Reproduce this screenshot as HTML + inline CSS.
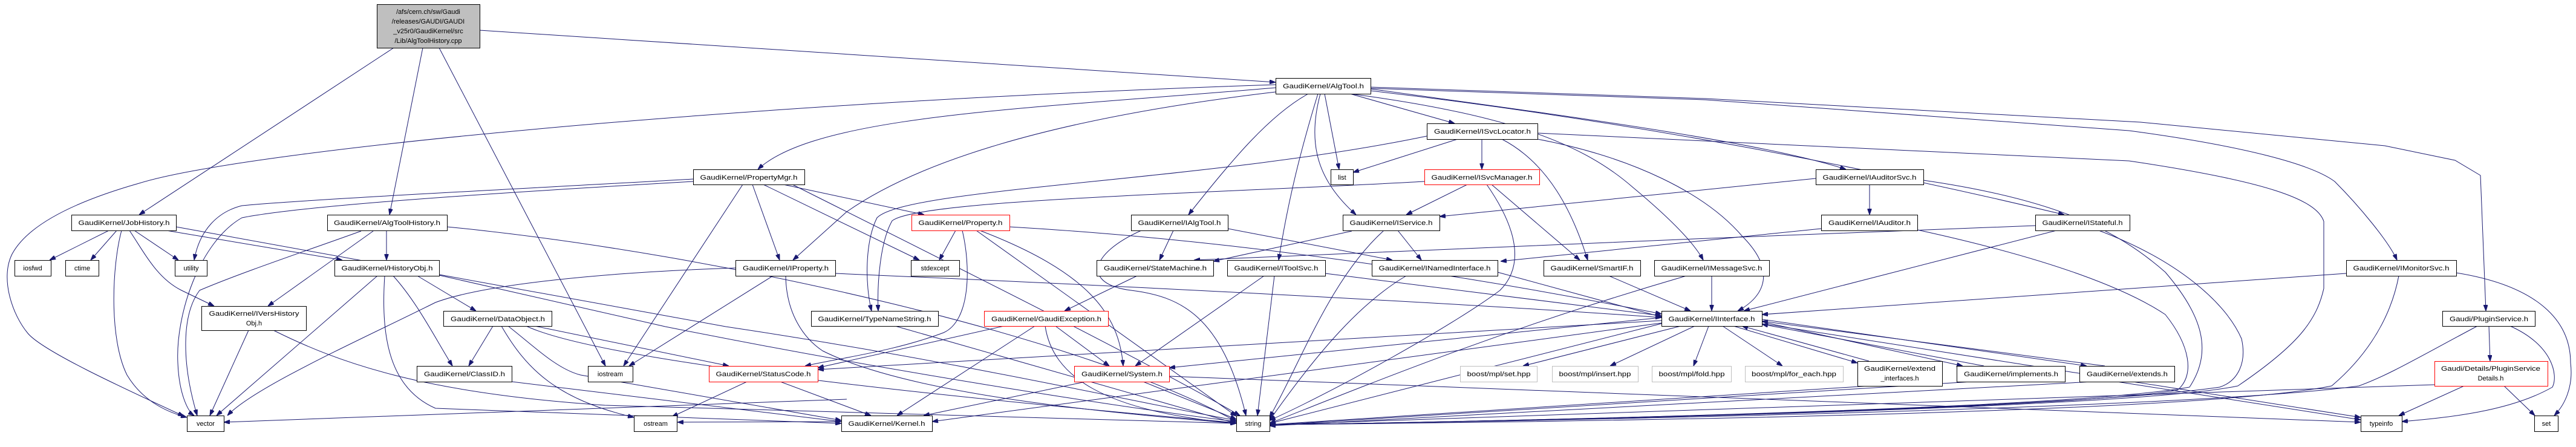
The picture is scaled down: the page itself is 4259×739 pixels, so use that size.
<!DOCTYPE html>
<html><head><meta charset="utf-8"><style>
html,body{margin:0;padding:0;background:#fff;}
svg{display:block;}
text{font-family:"Liberation Sans",sans-serif;font-size:11px;fill:#000;}
.e{fill:none;stroke:#191970;stroke-width:1;marker-end:url(#a);}
.n{fill:#fff;stroke:#000;stroke-width:1;}
.r{fill:#fff;stroke:#f00;stroke-width:1;}
.g{fill:#fff;stroke:#bfbfbf;stroke-width:1;}
</style></head><body>
<svg width="4259" height="739" viewBox="0 0 4259 739" xmlns="http://www.w3.org/2000/svg">
<defs><marker id="a" markerWidth="10" markerHeight="7" refX="10" refY="3.5" orient="auto" markerUnits="userSpaceOnUse"><path d="M0,0 L10,3.5 L0,7 z" fill="#191970" stroke="#191970"/></marker></defs>
<g>
<!-- root -->
<path class="e" d="M651,79 L230,355"/>
<path class="e" d="M699,79 L644,355"/>
<path class="e" d="M726,79 L1001,605"/>
<path class="e" d="M793,50 L2109,136"/>
<!-- JobHistory -->
<path class="e" d="M180,381 L82,430"/>
<path class="e" d="M193,381 L150,430"/>
<path class="e" d="M222,381 L295,430"/>
<path class="e" d="M201,381 C185,440 180,560 210,620 C240,670 290,685 309,690"/>
<path class="e" d="M214,381 C240,420 260,460 300,480 L354,506"/>
<path class="e" d="M275,381 L566,430"/>
<path class="e" d="M291,375 L1200,540 C1600,600 1900,670 2044,695"/>
<!-- AlgToolHistory -->
<path class="e" d="M597,382 C520,410 400,450 330,480 C300,520 300,600 326,687"/>
<path class="e" d="M617,382 L443,506"/>
<path class="e" d="M639,381 L639,430"/>
<path class="e" d="M739,375 C1200,420 1800,560 2044,697"/>
<!-- HistoryObj -->
<path class="e" d="M624,456 L358,687"/>
<path class="e" d="M690,456 L787,514"/>
<path class="e" d="M650,456 C690,500 720,560 748,605"/>
<path class="e" d="M636,456 C630,550 640,640 720,675 L1391,700"/>
<path class="e" d="M726,455 L1100,540 C1500,620 1900,680 2044,697"/>
<!-- IVersHistoryObj -->
<path class="e" d="M411,546 L347,687"/>
<path class="e" d="M452,546 C560,600 700,650 1000,670 L2044,700"/>
<!-- DataObject -->
<path class="e" d="M815,539 L775,605"/>
<path class="e" d="M829,539 C870,610 920,660 1048,690"/>
<path class="e" d="M840,539 C880,570 920,610 960,620 L1391,695"/>
<path class="e" d="M884,539 L1205,605"/>
<path class="e" d="M870,539 C1000,600 1600,660 2044,699"/>
<!-- ClassID -->
<path class="e" d="M846,631 L1391,697"/>
<!-- StatusCode -->
<path class="e" d="M1235,631 L1111,689"/>
<path class="e" d="M1290,631 L1440,687"/>
<path class="e" d="M1391,697 L1120,698"/>
<path class="e" d="M1400,660 L370,698"/>
<!-- PropertyMgr -->
<path class="e" d="M1146,296 C900,310 500,330 400,340 C360,350 330,380 321,430"/>
<path class="e" d="M1146,300 C800,320 500,340 400,360 C330,400 290,520 294,600 C296,650 310,680 321,687"/>
<path class="e" d="M1228,305 L1031,605"/>
<path class="e" d="M1244,305 L1289,430"/>
<path class="e" d="M1262,305 L1520,430"/>
<path class="e" d="M1295,305 L1528,355"/>
<path class="e" d="M1310,305 C1600,450 1900,600 2050,687"/>
<!-- IProperty -->
<path class="e" d="M1216,443 C1000,450 800,470 720,500 C600,560 420,640 376,687"/>
<path class="e" d="M1278,456 L1040,605"/>
<path class="e" d="M1299,456 C1300,520 1330,560 1360,580 C1500,650 1800,680 2044,700"/>
<path class="e" d="M1381,452 C1800,470 2400,500 2747,525"/>
<!-- Property.h -->
<path class="e" d="M1580,381 L1553,430"/>
<path class="e" d="M1591,381 C1605,440 1605,530 1560,550 C1480,580 1400,590 1331,605"/>
<path class="e" d="M1614,381 L2044,688"/>
<path class="e" d="M1669,375 C2100,400 2500,470 2747,519"/>
<path class="e" d="M1620,381 C1800,450 1850,520 1857,605"/>
<!-- TypeNameString -->
<path class="e" d="M1480,539 L2044,700"/>
<path class="e" d="M2359,225 C2000,300 1500,310 1450,360 C1430,400 1430,470 1441,514"/>
<path class="e" d="M2355,300 C2000,320 1520,330 1475,365 C1455,400 1450,470 1452,514"/>
<!-- IAlgTool -->
<path class="e" d="M1940,381 L1917,430"/>
<path class="e" d="M1887,381 C1800,420 1790,470 1870,480 C1950,490 2020,520 2060,687"/>
<path class="e" d="M2030,378 L2302,430"/>
<path class="e" d="M1880,456 L1760,514"/>
<!-- IToolSvc -->
<path class="e" d="M2107,456 L2079,687"/>
<path class="e" d="M2090,456 L1877,605"/>
<path class="e" d="M2191,452 L2747,522"/>
<!-- GaudiException -->
<path class="e" d="M1711,539 L1483,687"/>
<path class="e" d="M1728,539 C1740,620 1820,680 2044,700"/>
<path class="e" d="M1745,539 L1834,605"/>
<path class="e" d="M1660,539 L1352,608"/>
<!-- System -->
<path class="e" d="M1795,631 L1527,687"/>
<path class="e" d="M1890,631 L2044,693"/>
<path class="e" d="M1933,622 L3903,698"/>
<!-- AlgTool -->
<path class="e" d="M2232,155 L2405,204"/>
<path class="e" d="M2190,155 L2214,280"/>
<path class="e" d="M2183,155 C2160,240 2180,300 2242,355"/>
<path class="e" d="M2179,155 C2150,250 2130,330 2114,430"/>
<path class="e" d="M2163,155 C2100,190 2040,260 1965,355"/>
<path class="e" d="M2232,155 C2500,190 2620,240 2700,310 C2760,360 2800,400 2816,430"/>
<path class="e" d="M2266,147 C2500,180 2900,230 3052,280"/>
<path class="e" d="M2266,150 C2700,200 3100,280 3413,355"/>
<path class="e" d="M2266,146 L2820,165 L3520,216 C3700,240 3820,270 3860,300 C3900,340 3950,400 3963,430"/>
<path class="e" d="M2266,144 L2820,163 L3539,202 L3943,241 L4059,265 L4101,290 L4110,514"/>
<path class="e" d="M2109,145 C1700,180 1350,190 1253,280"/>
<path class="e" d="M2109,152 C1700,200 1500,280 1400,350 L1311,430"/>
<path class="e" d="M2109,140 C1200,170 400,250 230,303 C100,340 41,381 20,420 C0,460 20,520 46,551 C70,580 200,640 304,688"/>
<!-- ISvcLocator -->
<path class="e" d="M2410,230 L2237,285"/>
<path class="e" d="M2450,230 L2450,280"/>
<path class="e" d="M2483,230 C2560,270 2600,350 2625,430"/>
<path class="e" d="M2542,230 C2700,260 2820,320 2880,390 C2950,460 2900,500 2873,514"/>
<path class="e" d="M2542,220 L3520,266 C3750,300 3830,330 3842,366 L3842,477 C3830,530 3800,570 3700,638 C3500,680 2300,700 2099,702"/>
<!-- IService -->
<path class="e" d="M2311,381 L2350,430"/>
<path class="e" d="M2288,381 C2200,460 2150,600 2099,690"/>
<path class="e" d="M2235,382 L2006,432"/>
<path class="e" d="M2426,305 L2325,355"/>
<path class="e" d="M3002,295 L2380,358"/>
<!-- INamedInterface -->
<path class="e" d="M2476,450 L2747,524"/>
<path class="e" d="M2325,456 C2250,500 2180,580 2099,695"/>
<!-- ISvcManager -->
<path class="e" d="M2466,305 L2612,430"/>
<path class="e" d="M2458,305 C2510,380 2520,440 2480,480 C2400,540 2200,650 2099,695"/>
<!-- SmartIF / IMessageSvc / Auditors -->
<path class="e" d="M2660,456 L2795,514"/>
<path class="e" d="M2830,456 L2830,514"/>
<path class="e" d="M2788,456 C2500,540 2300,620 2099,700"/>
<path class="e" d="M3091,305 L3091,355"/>
<path class="e" d="M3011,378 L2481,432"/>
<path class="e" d="M3400,381 L2883,514"/>
<path class="e" d="M3365,373 L2800,395 L1974,430"/>
<path class="e" d="M3470,381 C3600,430 3680,500 3706,560 C3715,600 3700,630 3670,640 C3400,680 2300,700 2099,702"/>
<path class="e" d="M3180,298 C3400,330 3500,380 3580,450 C3640,520 3660,580 3620,640 C3400,680 2300,700 2099,702"/>
<path class="e" d="M3170,380 C3400,430 3520,480 3580,520 C3620,570 3630,620 3600,645 C3400,680 2300,700 2099,702"/>
<!-- IMonitorSvc / Plugin -->
<path class="e" d="M3879,452 L2913,520"/>
<path class="e" d="M3966,456 C3950,540 3900,600 3855,638 C3600,690 2300,700 2099,702"/>
<path class="e" d="M4061,451 C4180,470 4250,520 4250,600 C4255,640 4240,670 4223,687"/>
<path class="e" d="M4115,539 L4117,597"/>
<path class="e" d="M4096,539 C4000,590 3950,620 3900,638 C3600,680 2300,700 2099,702"/>
<path class="e" d="M4150,539 C4220,570 4230,620 4220,640 C4150,680 4050,690 3971,697"/>
<path class="e" d="M4074,638 L3966,687"/>
<path class="e" d="M4140,638 L4191,687"/>
<path class="e" d="M4025,636 L2099,702"/>
<!-- IInterface -->
<path class="e" d="M2747,525 L1933,608"/>
<path class="e" d="M2747,530 L1352,611"/>
<path class="e" d="M2779,539 L2518,605"/>
<path class="e" d="M2802,539 L2662,605"/>
<path class="e" d="M2825,539 L2800,605"/>
<path class="e" d="M2848,539 L2947,605"/>
<path class="e" d="M2866,539 L3071,600"/>
<path class="e" d="M3090,597 L2880,539"/>
<path class="e" d="M2913,532 L3245,605"/>
<path class="e" d="M3280,605 L2913,536"/>
<path class="e" d="M2913,528 L3450,605"/>
<path class="e" d="M3480,605 L2913,531"/>
<path class="e" d="M2747,535 L2099,700"/>
<path class="e" d="M2913,535 L3903,690"/>
<path class="e" d="M2747,534 L1541,697"/>
<path class="e" d="M3090,638 L2099,702"/>
<path class="e" d="M3260,631 L2099,703"/>
<path class="e" d="M3460,631 L2099,704"/>
<path class="e" d="M3500,631 L3903,694"/>
</g>
<g>
<rect x="623.5" y="7.5" width="170" height="72" fill="#bfbfbf" stroke="#000"/>
<text x="708" y="23" text-anchor="middle">/afs/cern.ch/sw/Gaudi</text>
<text x="708" y="39" text-anchor="middle">/releases/GAUDI/GAUDI</text>
<text x="708" y="55" text-anchor="middle">_v25r0/GaudiKernel/src</text>
<text x="708" y="71" text-anchor="middle">/Lib/AlgToolHistory.cpp</text>

<rect class="n" x="118.5" y="355.5" width="173" height="26"/><text x="205" y="372" text-anchor="middle" textLength="151" lengthAdjust="spacingAndGlyphs">GaudiKernel/JobHistory.h</text>
<rect class="n" x="24.5" y="430.5" width="60" height="26"/><text x="54" y="447" text-anchor="middle">iosfwd</text>
<rect class="n" x="108.5" y="430.5" width="55" height="26"/><text x="136" y="447" text-anchor="middle">ctime</text>
<rect class="n" x="289.5" y="430.5" width="53" height="26"/><text x="316" y="447" text-anchor="middle">utility</text>
<rect class="n" x="541.5" y="355.5" width="198" height="26"/><text x="640" y="372" text-anchor="middle" textLength="176" lengthAdjust="spacingAndGlyphs">GaudiKernel/AlgToolHistory.h</text>
<rect class="n" x="553.5" y="430.5" width="173" height="26"/><text x="640" y="447" text-anchor="middle" textLength="151" lengthAdjust="spacingAndGlyphs">GaudiKernel/HistoryObj.h</text>
<rect class="n" x="333.5" y="506.5" width="173" height="40"/><text x="420" y="522" text-anchor="middle" textLength="149" lengthAdjust="spacingAndGlyphs">GaudiKernel/IVersHistory</text><text x="420" y="538" text-anchor="middle">Obj.h</text>
<rect class="n" x="309.5" y="687.5" width="61" height="26"/><text x="340" y="704" text-anchor="middle">vector</text>
<rect class="n" x="733.5" y="514.5" width="179" height="25"/><text x="823" y="531" text-anchor="middle" textLength="156" lengthAdjust="spacingAndGlyphs">GaudiKernel/DataObject.h</text>
<rect class="n" x="689.5" y="605.5" width="157" height="26"/><text x="768" y="622" text-anchor="middle" textLength="134" lengthAdjust="spacingAndGlyphs">GaudiKernel/ClassID.h</text>
<rect class="n" x="972.5" y="605.5" width="74" height="26"/><text x="1009" y="622" text-anchor="middle">iostream</text>
<rect class="r" x="1172.5" y="605.5" width="180" height="26"/><text x="1262" y="622" text-anchor="middle" textLength="157" lengthAdjust="spacingAndGlyphs">GaudiKernel/StatusCode.h</text>
<rect class="n" x="1048.5" y="687.5" width="71" height="26"/><text x="1084" y="704" text-anchor="middle">ostream</text>
<rect class="n" x="1391.5" y="687.5" width="150" height="26"/><text x="1466" y="704" text-anchor="middle" textLength="127" lengthAdjust="spacingAndGlyphs">GaudiKernel/Kernel.h</text>
<rect class="n" x="1146.5" y="280.5" width="184" height="25"/><text x="1238" y="297" text-anchor="middle" textLength="161" lengthAdjust="spacingAndGlyphs">GaudiKernel/PropertyMgr.h</text>
<rect class="n" x="1216.5" y="430.5" width="165" height="26"/><text x="1299" y="447" text-anchor="middle" textLength="142" lengthAdjust="spacingAndGlyphs">GaudiKernel/IProperty.h</text>
<rect class="n" x="1341.5" y="514.5" width="210" height="25"/><text x="1446" y="531" text-anchor="middle" textLength="187" lengthAdjust="spacingAndGlyphs">GaudiKernel/TypeNameString.h</text>
<rect class="n" x="2109.5" y="129.5" width="157" height="26"/><text x="2188" y="146" text-anchor="middle" textLength="134" lengthAdjust="spacingAndGlyphs">GaudiKernel/AlgTool.h</text>
<rect class="r" x="1507.5" y="355.5" width="162" height="26"/><text x="1588" y="372" text-anchor="middle" textLength="139" lengthAdjust="spacingAndGlyphs">GaudiKernel/Property.h</text>
<rect class="n" x="1506.5" y="430.5" width="80" height="26"/><text x="1546" y="447" text-anchor="middle">stdexcept</text>
<rect class="n" x="1870.5" y="355.5" width="160" height="26"/><text x="1950" y="372" text-anchor="middle" textLength="137" lengthAdjust="spacingAndGlyphs">GaudiKernel/IAlgTool.h</text>
<rect class="n" x="1813.5" y="430.5" width="193" height="26"/><text x="1910" y="447" text-anchor="middle" textLength="170" lengthAdjust="spacingAndGlyphs">GaudiKernel/StateMachine.h</text>
<rect class="n" x="2029.5" y="430.5" width="162" height="26"/><text x="2110" y="447" text-anchor="middle" textLength="139" lengthAdjust="spacingAndGlyphs">GaudiKernel/IToolSvc.h</text>
<rect class="r" x="1627.5" y="514.5" width="205" height="25"/><text x="1730" y="531" text-anchor="middle" textLength="182" lengthAdjust="spacingAndGlyphs">GaudiKernel/GaudiException.h</text>
<rect class="r" x="1776.5" y="605.5" width="157" height="26"/><text x="1855" y="622" text-anchor="middle" textLength="134" lengthAdjust="spacingAndGlyphs">GaudiKernel/System.h</text>
<rect class="n" x="2044.5" y="687.5" width="55" height="26"/><text x="2072" y="704" text-anchor="middle">string</text>
<rect class="n" x="2359.5" y="204.5" width="183" height="26"/><text x="2451" y="221" text-anchor="middle" textLength="160" lengthAdjust="spacingAndGlyphs">GaudiKernel/ISvcLocator.h</text>
<rect class="n" x="2200.5" y="280.5" width="37" height="25"/><text x="2219" y="297" text-anchor="middle">list</text>
<rect class="r" x="2355.5" y="280.5" width="190" height="25"/><text x="2450" y="297" text-anchor="middle" textLength="167" lengthAdjust="spacingAndGlyphs">GaudiKernel/ISvcManager.h</text>
<rect class="n" x="2220.5" y="355.5" width="160" height="26"/><text x="2300" y="372" text-anchor="middle" textLength="137" lengthAdjust="spacingAndGlyphs">GaudiKernel/IService.h</text>
<rect class="n" x="2268.5" y="430.5" width="208" height="26"/><text x="2372" y="447" text-anchor="middle" textLength="185" lengthAdjust="spacingAndGlyphs">GaudiKernel/INamedInterface.h</text>
<rect class="n" x="2552.5" y="430.5" width="160" height="26"/><text x="2632" y="447" text-anchor="middle" textLength="137" lengthAdjust="spacingAndGlyphs">GaudiKernel/SmartIF.h</text>
<rect class="n" x="2735.5" y="430.5" width="190" height="26"/><text x="2830" y="447" text-anchor="middle" textLength="167" lengthAdjust="spacingAndGlyphs">GaudiKernel/IMessageSvc.h</text>
<rect class="n" x="2747.5" y="514.5" width="166" height="25"/><text x="2830" y="531" text-anchor="middle" textLength="143" lengthAdjust="spacingAndGlyphs">GaudiKernel/IInterface.h</text>
<rect class="g" x="2414.5" y="605.5" width="127" height="26"/><text x="2478" y="622" text-anchor="middle" textLength="105" lengthAdjust="spacingAndGlyphs">boost/mpl/set.hpp</text>
<rect class="g" x="2566.5" y="605.5" width="142" height="26"/><text x="2637" y="622" text-anchor="middle" textLength="119" lengthAdjust="spacingAndGlyphs">boost/mpl/insert.hpp</text>
<rect class="g" x="2731.5" y="605.5" width="131" height="26"/><text x="2797" y="622" text-anchor="middle" textLength="109" lengthAdjust="spacingAndGlyphs">boost/mpl/fold.hpp</text>
<rect class="g" x="2885.5" y="605.5" width="162" height="26"/><text x="2966" y="622" text-anchor="middle" textLength="140" lengthAdjust="spacingAndGlyphs">boost/mpl/for_each.hpp</text>
<rect class="n" x="3071.5" y="597.5" width="140" height="41"/><text x="3141" y="613" text-anchor="middle" textLength="118" lengthAdjust="spacingAndGlyphs">GaudiKernel/extend</text><text x="3141" y="629" text-anchor="middle">_interfaces.h</text>
<rect class="n" x="3235.5" y="605.5" width="179" height="26"/><text x="3325" y="622" text-anchor="middle" textLength="156" lengthAdjust="spacingAndGlyphs">GaudiKernel/implements.h</text>
<rect class="n" x="3438.5" y="605.5" width="157" height="26"/><text x="3517" y="622" text-anchor="middle" textLength="134" lengthAdjust="spacingAndGlyphs">GaudiKernel/extends.h</text>
<rect class="n" x="3002.5" y="280.5" width="178" height="25"/><text x="3091" y="297" text-anchor="middle" textLength="155" lengthAdjust="spacingAndGlyphs">GaudiKernel/IAuditorSvc.h</text>
<rect class="n" x="3011.5" y="355.5" width="159" height="26"/><text x="3091" y="372" text-anchor="middle" textLength="136" lengthAdjust="spacingAndGlyphs">GaudiKernel/IAuditor.h</text>
<rect class="n" x="3365.5" y="355.5" width="156" height="26"/><text x="3443" y="372" text-anchor="middle" textLength="133" lengthAdjust="spacingAndGlyphs">GaudiKernel/IStateful.h</text>
<rect class="n" x="3879.5" y="430.5" width="182" height="26"/><text x="3970" y="447" text-anchor="middle" textLength="159" lengthAdjust="spacingAndGlyphs">GaudiKernel/IMonitorSvc.h</text>
<rect class="n" x="4038.5" y="514.5" width="153" height="25"/><text x="4115" y="531" text-anchor="middle" textLength="130" lengthAdjust="spacingAndGlyphs">Gaudi/PluginService.h</text>
<rect class="r" x="4025.5" y="597.5" width="187" height="41"/><text x="4118" y="613" text-anchor="middle" textLength="164" lengthAdjust="spacingAndGlyphs">Gaudi/Details/PluginService</text><text x="4118" y="629" text-anchor="middle">Details.h</text>
<rect class="n" x="3903.5" y="687.5" width="68" height="26"/><text x="3937" y="704" text-anchor="middle">typeinfo</text>
<rect class="n" x="4190.5" y="687.5" width="39" height="26"/><text x="4210" y="704" text-anchor="middle">set</text>
</g>
</svg>
</body></html>
